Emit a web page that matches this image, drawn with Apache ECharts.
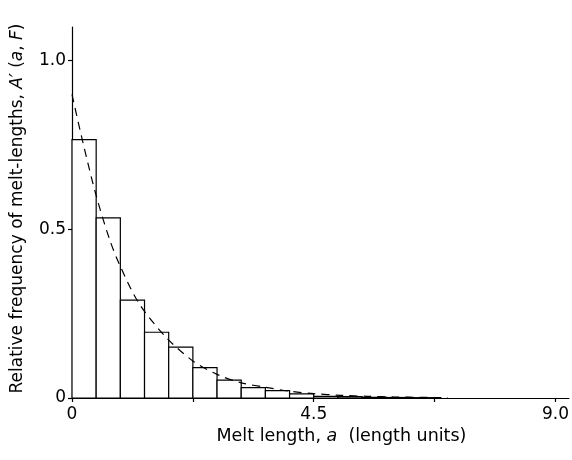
<!DOCTYPE html>
<html>
<head>
<meta charset="utf-8">
<script src="https://cdn.jsdelivr.net/npm/echarts@6/dist/echarts.min.js"></script>
<style>
  html, body { margin: 0; padding: 0; background: #fff; }
  #chart { width: 572px; height: 460px; }
</style>
</head>
<body>
<div id="chart"></div>
<script>
// Histogramm: Klassenränder (Länge) und relative Häufigkeiten
const binEdges = [0, 0.45, 0.9, 1.35, 1.8, 2.25, 2.7, 3.15, 3.6, 4.05, 4.5, 4.95, 5.4, 5.85, 6.3, 6.75];
const binFreq = [0.766, 0.534, 0.290, 0.195, 0.151, 0.090, 0.053, 0.031, 0.022, 0.012, 0.005, 0.004, 0.002, 0.0015, 0.001];

const curveX = [0, 0.2, 0.45, 0.7, 0.9, 1.25, 1.75, 2.25, 2.7, 3.15, 3.6, 4.05, 4.5, 5.0, 5.5, 6.0, 6.5, 7.0];
const curveY = [0.90, 0.76, 0.60, 0.47, 0.39, 0.28, 0.18, 0.11, 0.07, 0.045, 0.032, 0.02, 0.013, 0.008, 0.005, 0.003, 0.002, 0.001];

const xTicks = [0, 2.25, 4.5, 6.75, 9];
const xLabels = [0, 4.5, 9];
const yTicks = [0, 0.5, 1.0];

const FONT = 'DejaVu Sans';

const chart = echarts.init(document.getElementById('chart'));

const bars = binFreq.map((v, i) => [binEdges[i], binEdges[i + 1], v]);
const curve = curveX.map((x, i) => [x, curveY[i]]);

const option = {
  animation: false,
  grid: { left: 72, right: 2, top: 27, bottom: 62 },
  xAxis: {
    type: 'value',
    min: 0,
    max: 9.25,
    name: '{n|Melt length, }{i|a}{n|  (length units)}',
    nameLocation: 'middle',
    nameGap: 28,
    nameTextStyle: {
      padding: [0, 0, 0, 42],
      rich: {
        n: { fontFamily: FONT, fontSize: 17.5, color: '#000' },
        i: { fontFamily: FONT, fontSize: 17.5, color: '#000', fontStyle: 'italic' }
      }
    },
    axisLine: { lineStyle: { color: '#000', width: 1.2 } },
    axisTick: { customValues: xTicks, length: 4, lineStyle: { color: '#000', width: 1.2 } },
    axisLabel: {
      customValues: xLabels,
      formatter: v => (v === 9 ? '9.0' : String(v)),
      fontFamily: FONT, fontSize: 17, color: '#000', margin: 8
    },
    splitLine: { show: false }
  },
  yAxis: {
    type: 'value',
    min: 0,
    max: 1.1,
    name: '{n|Relative frequency of melt-lengths, }{i|A′}{n| (}{i|a}{n|, }{i|F}{n|)}',
    nameLocation: 'middle',
    nameGap: 46,
    nameTextStyle: {
      padding: [0, 0, 0, 8],
      rich: {
        n: { fontFamily: FONT, fontSize: 17, color: '#000' },
        i: { fontFamily: FONT, fontSize: 17, color: '#000', fontStyle: 'italic' }
      }
    },
    axisLine: { show: true, lineStyle: { color: '#000', width: 1.2 } },
    axisTick: { show: true, customValues: yTicks, length: 4, lineStyle: { color: '#000', width: 1.2 } },
    axisLabel: {
      customValues: yTicks,
      formatter: v => (v === 0 ? '0' : v.toFixed(1)),
      fontFamily: FONT, fontSize: 17, color: '#000', margin: 6
    },
    splitLine: { show: false }
  },
  series: [
    {
      type: 'custom',
      data: bars,
      renderItem: (params, api) => {
        const p0 = api.coord([api.value(0), api.value(2)]);
        const p1 = api.coord([api.value(1), 0]);
        return {
          type: 'rect',
          shape: { x: p0[0], y: p0[1], width: p1[0] - p0[0], height: p1[1] - p0[1] },
          style: { fill: '#fff', stroke: '#000', lineWidth: 1.2 }
        };
      },
      encode: { x: [0, 1], y: 2 },
      z: 2
    },
    {
      type: 'line',
      data: curve,
      smooth: 0.3,
      symbol: 'none',
      lineStyle: { color: '#000', width: 1.2, type: [8, 6] },
      z: 3
    }
  ]
};

chart.setOption(option);
</script>
</body>
</html>
